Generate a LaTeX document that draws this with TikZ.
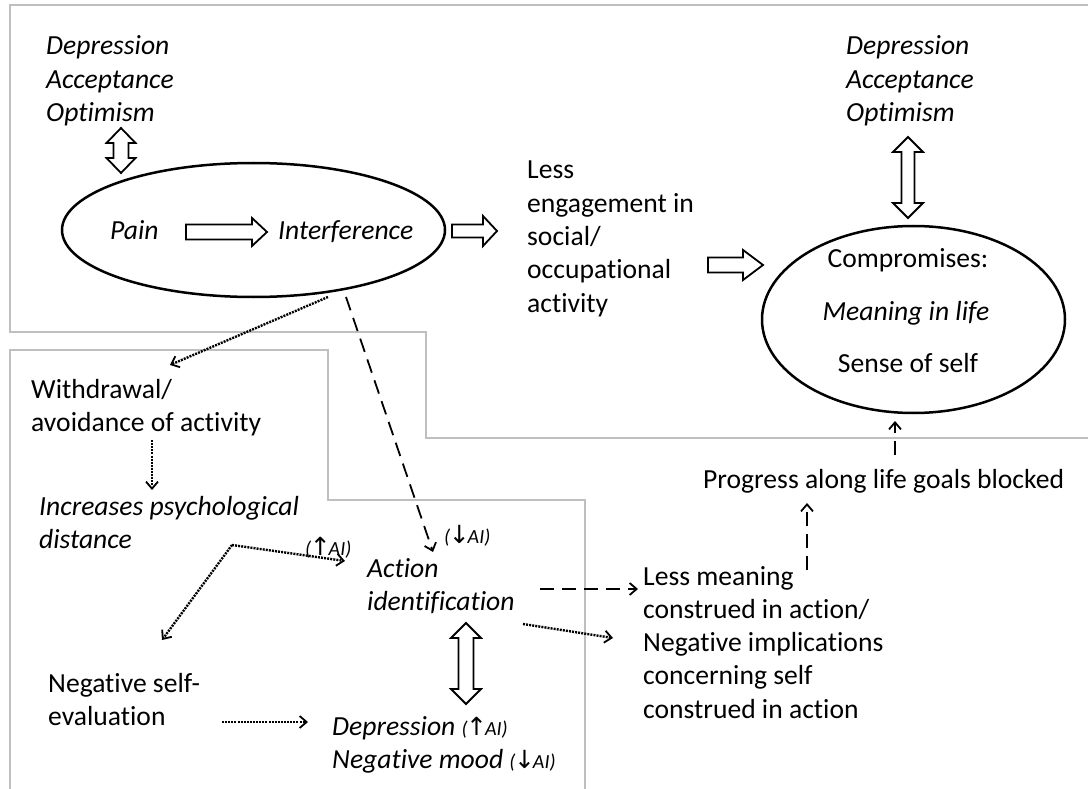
\documentclass[tikz,border=0pt]{standalone}
\usepackage{fontspec}
\setmainfont{Carlito}[Ligatures={NoCommon,NoContextual,NoRequired,NoRare}, Contextuals={NoAlternate}]
\newfontfamily\symfont{DejaVu Sans}
\usetikzlibrary{arrows.meta,shapes.geometric}
\newcommand\mainsize{\fontsize{27.6}{33.3}\selectfont}
\newcommand\ailabel[1]{{\fontsize{20}{22}\selectfont(\hspace{-1.5pt}\raisebox{-0.5pt}{\symfont\upshape\fontsize{25}{22}\selectfont #1}\hspace{-2pt}AI)}}
\newcommand\llines[1]{\begin{tabular}[t]{@{}l@{}}#1\end{tabular}}
% right-pointing block arrow: x1,x2,y,shaft half,head half,head length
\newcommand\rblock[6]{\draw[blk] (#1,#3-#4) -- (#2-#6,#3-#4) -- (#2-#6,#3-#5) -- (#2,#3) -- (#2-#6,#3+#5) -- (#2-#6,#3+#4) -- (#1,#3+#4) -- cycle;}
% vertical double block arrow: x,y1,y2,shaft half,head half,head length
\newcommand\vdblock[6]{\draw[blk] (#1,#2) -- (#1+#5,#2+#6) -- (#1+#4,#2+#6) -- (#1+#4,#3-#6) -- (#1+#5,#3-#6) -- (#1,#3) -- (#1-#5,#3-#6) -- (#1-#4,#3-#6) -- (#1-#4,#2+#6) -- (#1-#5,#2+#6) -- cycle;}
\begin{document}
\begin{tikzpicture}[x=1pt,y=-1pt,
  txt/.style={font=\mainsize, inner sep=0pt, anchor=base west},
  itxt/.style={txt, font=\mainsize\itshape},
  ctxt/.style={font=\mainsize, inner sep=0pt, anchor=base},
  frame/.style={draw=black!25, line width=2pt},
  ell/.style={draw, ellipse, line width=2.5pt, inner sep=0pt},
  blk/.style={draw, fill=white, line width=1.8pt, line join=miter},
  tip/.style={-{Straight Barb[length=7pt,width=12pt,line width=1.8pt]}},
  dotc/.style={tip, line width=2.4pt, dash pattern=on 2pt off 1.1pt},
  dashc/.style={tip, line width=1.8pt, dash pattern=on 14pt off 8pt}]
\useasboundingbox (0,0) rectangle (1088,789);
% grey frames
\draw[frame] (1088,5) -- (10,5) -- (10,332) -- (426,332) -- (426,438) -- (1088,438);
\draw[frame] (10,789) -- (10,350) -- (328,350) -- (328,500) -- (585,500) -- (585,789);
% ellipses
\node[ell, minimum width=383pt, minimum height=134pt] (pie) at (253.5,230) {};
\node[ell, minimum width=303pt, minimum height=187pt] (comp) at (913.5,319.5) {};
% texts
\node[itxt] (modl) at (46,55) {\llines{Depression\\Acceptance\\Optimism}};
\node[itxt] (modr) at (846,55) {\llines{Depression\\Acceptance\\Optimism}};
\node[itxt] (pain) at (110,240) {Pain};
\node[itxt] (interf) at (278,240) {Interference};
\node[txt] (less) at (527,179) {\llines{Less\\engagement in\\social/\\occupational\\activity}};
\node[ctxt] (compt) at (908,267) {Compromises:};
\node[ctxt, font=\mainsize\itshape] (mil) at (906,320) {Meaning in life};
\node[ctxt] (sos) at (908,372) {Sense of self};
\node[txt] (prog) at (703,488) {Progress along life goals blocked};
\node[txt] (withd) at (31,398) {\llines{Withdrawal/\\avoidance of activity}};
\node[itxt] (incr) at (39,515) {\llines{Increases psychological\\distance}};
\node[txt] (negself) at (48,692) {\llines{Negative self-\\evaluation}};
\node[itxt] (act) at (367,577) {\llines{Action\\identification}};
\node[itxt] (mood) at (332,735) {\llines{Depression \ailabel{↑}\\Negative mood \ailabel{↓}}};
\node[txt] (lessm) at (643,585) {\llines{Less meaning\\construed in action/\\Negative implications\\concerning self\\construed in action}};
\node[itxt] (aidown) at (444,543) {\ailabel{↓}};
\node[itxt] (aiup) at (305,555) {\ailabel{↑}};
% block arrows
\rblock{186}{267}{232}{7.5}{14}{15}
\rblock{452}{497}{231}{6.5}{15}{14}
\rblock{708}{763}{265}{7.5}{15}{20}
\vdblock{121}{128}{173}{7.5}{14.5}{15}
\vdblock{908}{137}{218}{6.5}{15}{15}
\vdblock{466}{623}{704}{7.5}{15}{15}
% connector end points
\coordinate (pieA) at (328,297);
\coordinate (pieB) at (346,297);
\coordinate (withdIn) at (170,365);
\coordinate (withdOut) at (152,440);
\coordinate (incrIn) at (152,490);
\coordinate (incrOut) at (232,545);
\coordinate (actInL) at (345,561);
\coordinate (actInT) at (433,552);
\coordinate (negIn) at (162,640);
\coordinate (negOut) at (222,722);
\coordinate (moodIn) at (308,722);
\coordinate (actOutA) at (540,589);
\coordinate (actOutB) at (523,624);
\coordinate (lessmInA) at (638,589);
\coordinate (lessmInB) at (613,638);
\coordinate (lessmOut) at (807,570);
\coordinate (progIn) at (807,503);
\coordinate (progOut) at (895,455);
\coordinate (compIn) at (895,421);
% connectors
\draw[dotc] (pieA) -- (withdIn);
\draw[dashc] (pieB) -- (actInT);
\draw[dotc] (withdOut) -- (incrIn);
\draw[dotc] (incrOut) -- (actInL);
\draw[dotc] (incrOut) -- (negIn);
\draw[dotc] (negOut) -- (moodIn);
\draw[dashc] (actOutA) -- (lessmInA);
\draw[dotc] (actOutB) -- (lessmInB);
\draw[dashc] (lessmOut) -- (progIn);
\draw[dashc] (progOut) -- (compIn);
\end{tikzpicture}
\end{document}
